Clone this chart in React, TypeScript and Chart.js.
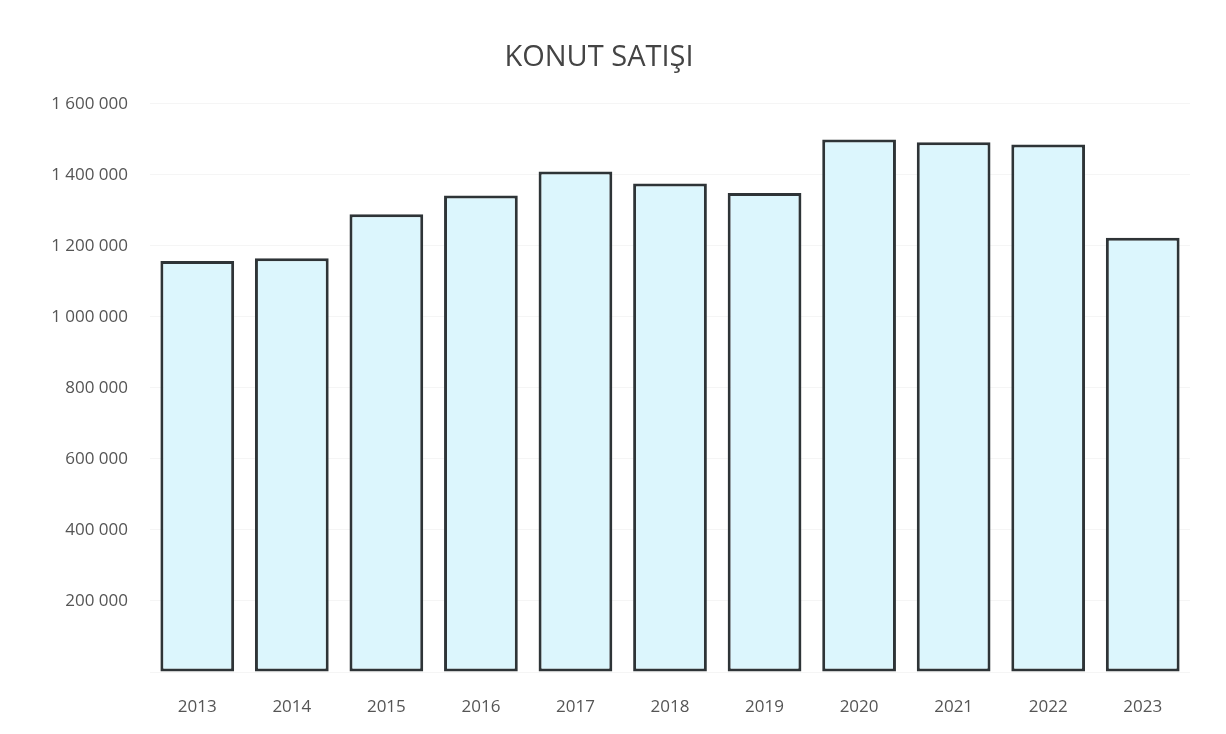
import React, { useEffect, useRef } from "react";
import { Chart, registerables } from "chart.js";

Chart.register(...registerables);

const years = ["2013", "2014", "2015", "2016", "2017", "2018", "2019", "2020", "2021", "2022", "2023"];
const sales = [1157190, 1165381, 1289320, 1341453, 1409314, 1375398, 1348729, 1499316, 1491856, 1485602, 1223000];
const yTicks = [200000, 400000, 600000, 800000, 1000000, 1200000, 1400000, 1600000];
const title = "KONUT SATIŞI";

const fmt = (v: number) => String(v).replace(/\B(?=(\d{3})+(?!\d))/g, " ");
const FONT = "'Open Sans', 'Liberation Sans', sans-serif";

export default function App() {
  const ref = useRef<HTMLCanvasElement | null>(null);
  useEffect(() => {
    if (!ref.current) return;
    const chart = new Chart(ref.current, {
      type: "bar",
      data: {
        labels: years,
        datasets: [
          {
            label: title,
            data: sales,
            backgroundColor: "#dcf6fd",
            borderColor: "#2e3437",
            borderWidth: 3,
            borderSkipped: false,
            categoryPercentage: 1,
            barPercentage: 0.78,
          },
        ],
      },
      options: {
        animation: false,
        responsive: true,
        maintainAspectRatio: false,
        layout: { padding: { left: 0, right: 28, top: 32, bottom: 0 } },
        plugins: {
          legend: { display: false },
          tooltip: { enabled: false },
          title: {
            display: true,
            text: title,
            color: "#444",
            font: { family: FONT, size: 29, weight: "normal" },
            padding: { top: 0, bottom: 29 },
          },
        },
        scales: {
          x: {
            grid: { display: false },
            border: { display: false },
            ticks: {
              color: "#555",
              font: { family: FONT, size: 17 },
              padding: 17,
            },
            afterFit: (s: any) => {
              s.height = 54;
            },
          },
          y: {
            min: 0,
            max: 1600000,
            afterBuildTicks: (s: any) => {
              s.ticks = [0, ...yTicks].map((v) => ({ value: v }));
            },
            grid: { color: "rgba(0,0,0,0.04)", drawTicks: false },
            border: { display: false },
            ticks: {
              color: "#555",
              font: { family: FONT, size: 17 },
              padding: 22,
              callback: (v: any) => (Number(v) === 0 ? "" : fmt(Number(v))),
            },
            afterFit: (s: any) => {
              s.width = 142;
            },
          },
        },
      },
    });
    return () => chart.destroy();
  }, []);
  return (
    <div style={{ width: 1210, height: 718, position: "relative" }}>
      <canvas ref={ref} />
    </div>
  );
}
